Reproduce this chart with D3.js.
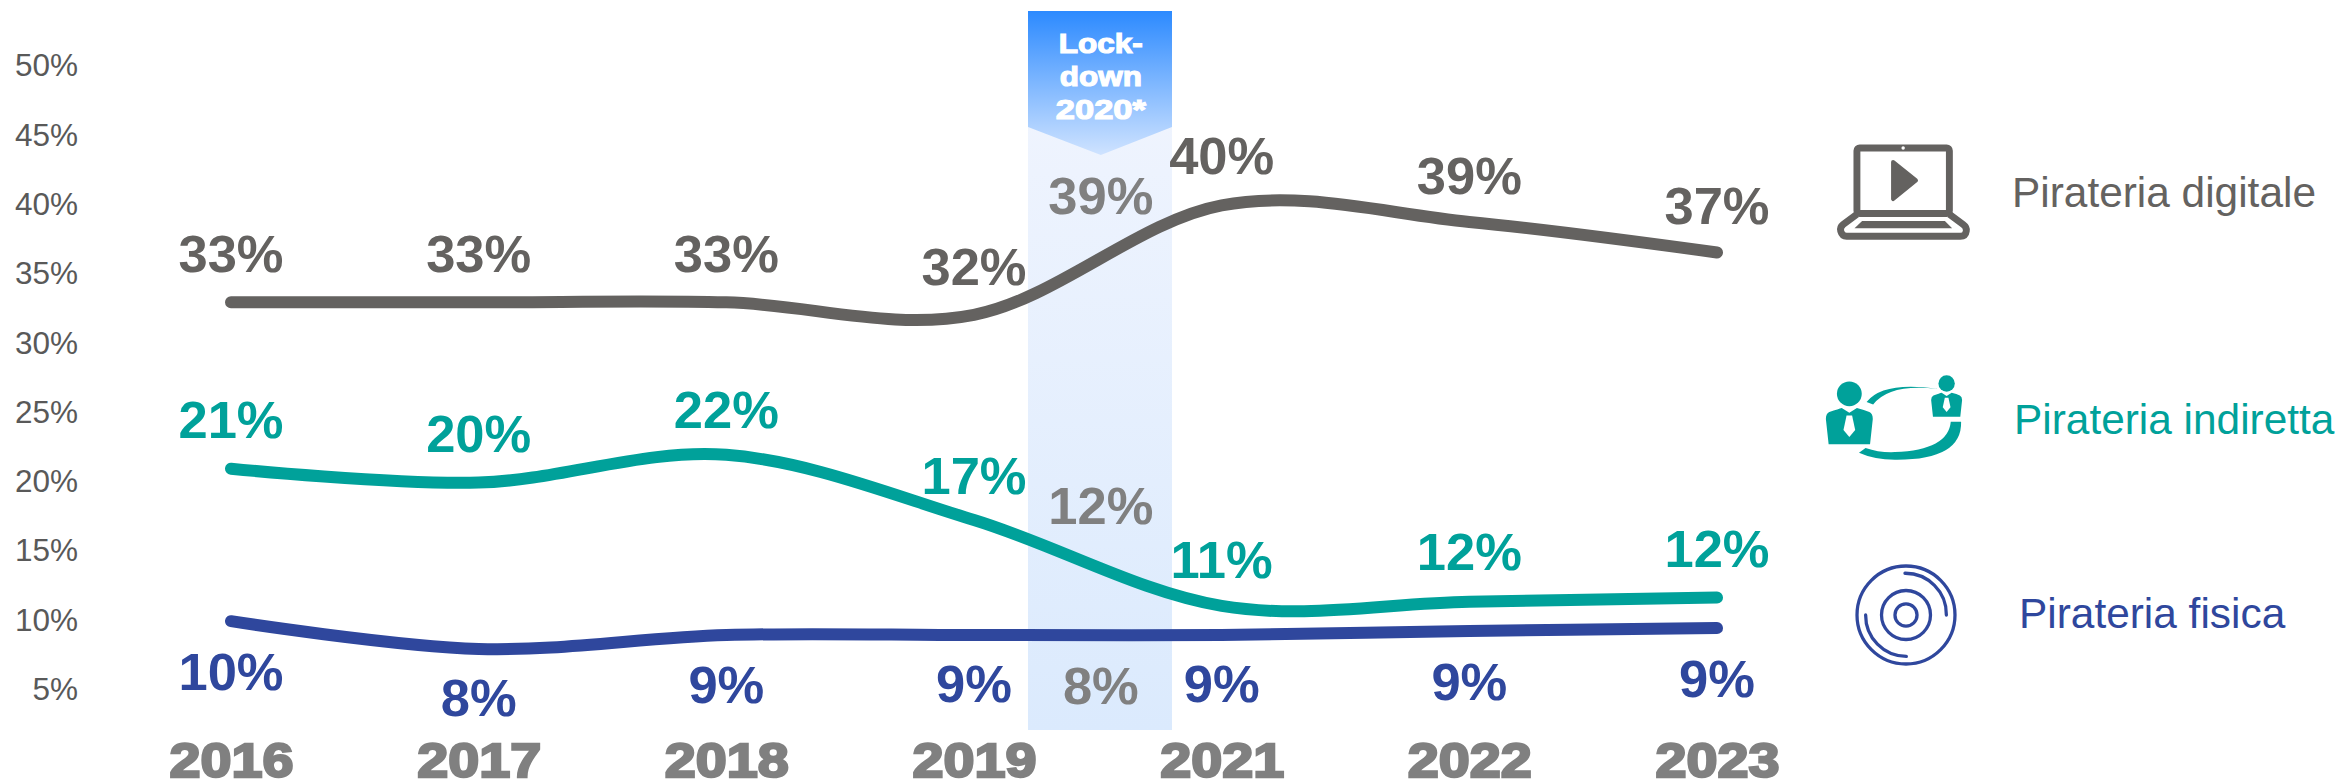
<!DOCTYPE html>
<html><head><meta charset="utf-8">
<script src="https://cdn.jsdelivr.net/npm/d3@7"></script>
<style>
html,body{margin:0;padding:0;background:#fff}
svg{display:block}
text{font-family:"Liberation Sans",Arial,sans-serif}
</style></head><body>
<svg id="c" width="2341" height="782"></svg>
<script>
const years = ["2016","2017","2018","2019","2021","2022","2023"];
const yTicks = [5,10,15,20,25,30,35,40,45,50];

const digitale = [33, 33, 33, 32.1, 40, 38.8, 36.6];
const indiretta = [21, 20, 22, 17.3, 11.1, 11.4, 11.7];
const fisica = [10, 8, 9, 9, 9, 9.3, 9.5];

const digitaleLabels = ["33%","33%","33%","32%","40%","39%","37%"];
const indirettaLabels = ["21%","20%","22%","17%","11%","12%","12%"];
const fisicaLabels = ["10%","8%","9%","9%","9%","9%","9%"];

const digitaleOffsets = [-29,-29,-29,-29,-30,-27,-27];
const indirettaOffsets = [-30,-30,-26,-25,-27,-31,-30];
const fisicaOffsets = [70,68,69,68,68,70,70];

const lockdownLines = ["Lock-","down","2020*"];
const lockdownWidths = [84,82,90];
const lockdownLabels = ["39%","12%","8%"];
const lockdownValues = [39,12,8];
const lockdownOffsets = [-4,-68,56];

const legendNames = ["Pirateria digitale","Pirateria indiretta","Pirateria fisica"];
const colDigitale = "#646260", colIndiretta = "#00a19a", colFisica = "#2f479d", colGrey = "#808080";

const svg = d3.select("#c");
const x = d3.scalePoint().domain(years).range([231,1717]);
const y = d3.scaleLinear().domain([5,50]).range([689.5,65.7]);
const bandLeft = 1028, bandRight = 1172, bandTop = 11, bandBottom = 730, bandMid = x("2019")/2 + x("2021")/2 + 3;

// band
const defs = svg.append("defs");
const g1 = defs.append("linearGradient").attr("id","head").attr("x1",0).attr("x2",0).attr("y1",0).attr("y2",1);
g1.append("stop").attr("offset",0).attr("stop-color","#2c8aff");
g1.append("stop").attr("offset",1).attr("stop-color","#cfe3ff");
const g2 = defs.append("linearGradient").attr("id","body").attr("x1",0).attr("x2",0).attr("y1",0).attr("y2",1);
g2.append("stop").attr("offset",0).attr("stop-color","#eff4fe");
g2.append("stop").attr("offset",1).attr("stop-color","#dbeafd");
svg.append("rect").attr("x",bandLeft).attr("y",bandTop+100).attr("width",bandRight-bandLeft).attr("height",bandBottom-bandTop-100).attr("fill","url(#body)");
svg.append("path").attr("d",`M${bandLeft} ${bandTop}H${bandRight}V127L${bandMid} 155L${bandLeft} 127Z`).attr("fill","url(#head)");
svg.append("g").selectAll("text").data(lockdownLines).join("text")
  .attr("x",bandMid).attr("y",(d,i)=>53+i*33).attr("text-anchor","middle")
  .attr("font-size",28).attr("font-weight","bold").attr("fill","#fff").attr("stroke","#fff").attr("stroke-width",1.2)
  .attr("textLength",(d,i)=>lockdownWidths[i]).attr("lengthAdjust","spacingAndGlyphs")
  .text(d=>d);

// y axis
const yAxis = d3.axisLeft(y).tickValues(yTicks).tickSize(0).tickPadding(0).tickFormat(d=>d+"%");
const ga = svg.append("g").attr("transform","translate(78,0)").call(yAxis);
ga.select(".domain").remove();
ga.selectAll("text").attr("font-size",31.5).attr("fill","#595959").style("font-family",'"Liberation Sans",Arial,sans-serif');

// x axis
const xAxis = d3.axisBottom(x).tickSize(0).tickPadding(0);
const gx = svg.append("g").attr("transform","translate(0,735)").call(xAxis);
gx.select(".domain").remove();
gx.selectAll("text").attr("font-size",49).attr("font-weight","bold").attr("fill",colGrey)
  .attr("stroke",colGrey).attr("stroke-width",2.4).attr("text-anchor","middle")
  .attr("textLength",124).attr("lengthAdjust","spacingAndGlyphs")
  .attr("dy",null).attr("y",42)
  .style("font-family",'"Liberation Sans",Arial,sans-serif');

// lines
const line = d3.line().x((d,i)=>x(years[i])).y(d=>y(d)).curve(d3.curveCatmullRom.alpha(0));
const gl = svg.append("g").attr("transform","translate(0,1)");
[[digitale,colDigitale],[indiretta,colIndiretta],[fisica,colFisica]].forEach(([s,c])=>{
  gl.append("path").datum(s).attr("d",line).attr("fill","none").attr("stroke",c)
    .attr("stroke-width",12).attr("stroke-linecap","round");
});

// data labels
[[digitale,digitaleLabels,digitaleOffsets,colDigitale],
 [indiretta,indirettaLabels,indirettaOffsets,colIndiretta],
 [fisica,fisicaLabels,fisicaOffsets,colFisica]].forEach(([s,l,o,c])=>{
  svg.append("g").selectAll("text").data(l).join("text")
    .attr("x",(d,i)=>x(years[i])).attr("y",(d,i)=>y(s[i])+o[i])
    .attr("text-anchor","middle").attr("font-size",52.5).attr("font-weight","bold").attr("fill",c).text(d=>d);
});
svg.append("g").selectAll("text").data(lockdownLabels).join("text")
  .attr("x",bandMid).attr("y",(d,i)=>y(lockdownValues[i])+lockdownOffsets[i])
  .attr("text-anchor","middle").attr("font-size",52.5).attr("font-weight","bold").attr("fill",colGrey).text(d=>d);

// legend text
const legendX=[2012,2014,2019], legendY=[207,434,628], legendC=[colDigitale,colIndiretta,colFisica];
svg.append("g").selectAll("text").data(legendNames).join("text")
  .attr("x",(d,i)=>legendX[i]).attr("y",(d,i)=>legendY[i]).attr("font-size",42.4).attr("fill",(d,i)=>legendC[i]).text(d=>d);

// icons
const lap = svg.append("g").attr("transform","translate(1800,120) scale(0.345)");
lap.append("rect").attr("x",165).attr("y",81).attr("width",268).attr("height",190).attr("rx",8).attr("fill","none").attr("stroke",colDigitale).attr("stroke-width",20);
lap.append("circle").attr("cx",299).attr("cy",81).attr("r",5).attr("fill","#fff");
lap.append("path").attr("d","M270 122L336 175L270 229Z").attr("fill",colDigitale).attr("stroke",colDigitale).attr("stroke-width",12).attr("stroke-linejoin","round");
lap.append("path").attr("d","M165 273L125 303Q115 311 118 322Q122 337 135 337H465Q480 337 482 322Q484 311 473 303L433 273").attr("fill","none").attr("stroke",colDigitale).attr("stroke-width",20);
lap.append("path").attr("d","M180 293H420L441 314H158Z").attr("fill",colDigitale);

const ppl = svg.append("g").attr("transform","translate(1800,350) scale(0.345)").attr("fill",colIndiretta);
function person(cx,hy,hr,s){
  const g = ppl.append("g").attr("transform",`translate(${cx},${hy}) scale(${s})`);
  g.append("circle").attr("r",hr);
  g.append("path").attr("d","M-58 53Q-30 43 -22 41L0 55L22 41Q45 47 58 53Q68 58 68 73L60 146H-60L-68 73Q-68 58 -58 53Z");
  g.append("path").attr("d","M-8 63H8L17 105L0 125L-17 105Z").attr("fill","#fff");
}
person(143,127,36,1);
person(425,97,36,0.66);
ppl.append("path").attr("d","M193 151Q240 90 400 113Q260 96 212 158Z");
ppl.append("path").attr("d","M467 208Q470 320 275 318Q215 318 171 298L190 284Q230 298 275 296Q430 290 437 208Z");

const disc = svg.append("g").attr("transform","translate(1906,615) scale(0.345)").attr("fill","none").attr("stroke",colFisica).attr("stroke-width",9.5).attr("stroke-linecap","round");
disc.append("circle").attr("r",142);
disc.append("circle").attr("r",71);
disc.append("circle").attr("r",32);
disc.append("path").attr("d","M-3 -121A119 119 0 0 1 117 0");
disc.append("path").attr("d","M-117 0A119 119 0 0 0 1 120");
</script>
</body></html>
